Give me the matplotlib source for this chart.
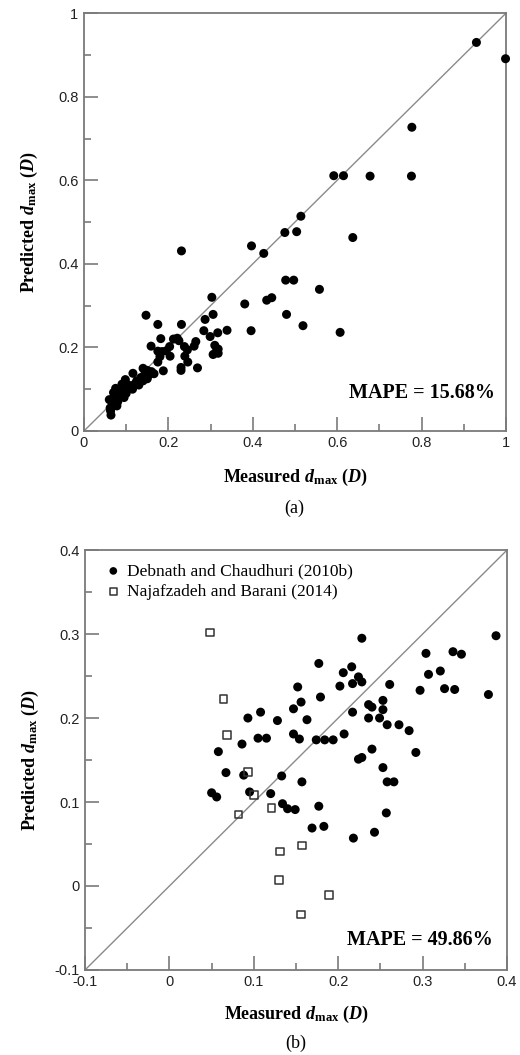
import numpy as np
import matplotlib
matplotlib.use('Agg')
from matplotlib import pyplot as plt
from matplotlib.ticker import MultipleLocator, FixedLocator

# ---- data ----
# (a) measured vs predicted d_max
meas_a = [0.930, 0.999, 0.777, 0.592, 0.615, 0.678, 0.776, 0.514, 0.476, 0.504,
          0.637, 0.397, 0.426, 0.231, 0.478, 0.497, 0.558, 0.303, 0.433, 0.445,
          0.381, 0.306, 0.480, 0.287, 0.147, 0.175, 0.231, 0.519, 0.396, 0.607,
          0.284, 0.339, 0.317, 0.299,
          0.182, 0.212, 0.221, 0.225, 0.265, 0.159, 0.238, 0.245, 0.261, 0.203,
          0.310, 0.318, 0.312, 0.306, 0.318, 0.175, 0.185, 0.195, 0.204, 0.239,
          0.180, 0.175, 0.246, 0.269, 0.230, 0.230, 0.188, 0.166,
          0.140, 0.150, 0.145, 0.155, 0.160, 0.135, 0.140, 0.150, 0.125, 0.116,
          0.130, 0.120,
          0.098, 0.105, 0.090, 0.085, 0.095, 0.100, 0.080, 0.075, 0.088, 0.070,
          0.080, 0.065, 0.072, 0.060, 0.068, 0.078, 0.062, 0.063, 0.064, 0.110,
          0.115, 0.095, 0.085, 0.075, 0.070]
pred_a = [0.930, 0.891, 0.727, 0.611, 0.611, 0.610, 0.610, 0.514, 0.475, 0.477,
          0.463, 0.443, 0.425, 0.431, 0.361, 0.361, 0.339, 0.320, 0.313, 0.319,
          0.304, 0.279, 0.279, 0.267, 0.277, 0.255, 0.255, 0.252, 0.240, 0.236,
          0.240, 0.241, 0.235, 0.226,
          0.221, 0.220, 0.222, 0.216, 0.214, 0.203, 0.202, 0.194, 0.203, 0.202,
          0.205, 0.196, 0.188, 0.183, 0.186, 0.191, 0.190, 0.192, 0.179, 0.179,
          0.178, 0.165, 0.165, 0.151, 0.152, 0.145, 0.144, 0.137,
          0.150, 0.145, 0.140, 0.135, 0.142, 0.128, 0.120, 0.125, 0.120, 0.138,
          0.110, 0.112,
          0.123, 0.110, 0.112, 0.100, 0.098, 0.090, 0.095, 0.085, 0.082, 0.078,
          0.070, 0.072, 0.065, 0.075, 0.060, 0.060, 0.055, 0.048, 0.038, 0.105,
          0.100, 0.080, 0.088, 0.102, 0.092]
mape_a = 'MAPE = 15.68%'

# (b) two earlier methods
meas_deb = [0.228, 0.387, 0.304, 0.336, 0.346, 0.177, 0.216, 0.206, 0.224, 0.217,
            0.228, 0.321, 0.307, 0.152, 0.202, 0.261, 0.326, 0.338, 0.297, 0.378,
            0.179, 0.156, 0.236, 0.240, 0.253, 0.147, 0.108, 0.217, 0.253, 0.093,
            0.128, 0.163, 0.236, 0.249, 0.258, 0.272, 0.284, 0.058, 0.086, 0.105,
            0.115, 0.147, 0.154, 0.174, 0.184, 0.194, 0.207, 0.292, 0.240, 0.224,
            0.228, 0.253, 0.258, 0.266, 0.157, 0.067, 0.088, 0.133, 0.050, 0.056,
            0.095, 0.120, 0.134, 0.140, 0.149, 0.177, 0.257, 0.169, 0.183, 0.218,
            0.243]
pred_deb = [0.295, 0.298, 0.277, 0.279, 0.276, 0.265, 0.261, 0.254, 0.249, 0.241,
            0.243, 0.256, 0.252, 0.237, 0.238, 0.240, 0.235, 0.234, 0.233, 0.228,
            0.225, 0.219, 0.216, 0.213, 0.221, 0.211, 0.207, 0.207, 0.210, 0.200,
            0.197, 0.198, 0.200, 0.200, 0.192, 0.192, 0.185, 0.160, 0.169, 0.176,
            0.176, 0.181, 0.175, 0.174, 0.174, 0.174, 0.181, 0.159, 0.163, 0.151,
            0.153, 0.141, 0.124, 0.124, 0.124, 0.135, 0.132, 0.131, 0.111, 0.106,
            0.112, 0.110, 0.098, 0.092, 0.091, 0.095, 0.087, 0.069, 0.071, 0.057,
            0.064]
meas_naj = [0.048, 0.064, 0.068, 0.093, 0.100, 0.082, 0.121, 0.157, 0.131, 0.130,
            0.189, 0.156]
pred_naj = [0.302, 0.223, 0.180, 0.136, 0.108, 0.085, 0.093, 0.048, 0.041, 0.007,
            -0.011, -0.034]
mape_b = 'MAPE = 49.86%'

lab_deb = 'Debnath and Chaudhuri (2010b)'
lab_naj = 'Najafzadeh and Barani (2014)'

# ---- style ----
plt.rcParams['mathtext.fontset'] = 'custom'
plt.rcParams['mathtext.rm'] = 'Liberation Serif'
plt.rcParams['mathtext.it'] = 'Liberation Serif:italic'
plt.rcParams['mathtext.bf'] = 'Liberation Serif:bold'
plt.rcParams['mathtext.bfit'] = 'Liberation Serif:bold:italic'

serif = 'Liberation Serif'
sans = 'Liberation Sans'
spine_col = '#7a7a7a'
xlab = r'Measured $\mathbfit{d}_{\mathbf{max}}$ ($\mathbfit{D}$)'
ylab = r'Predicted $\mathbfit{d}_{\mathbf{max}}$ ($\mathbfit{D}$)'


def fmt(v):
    s = ('%.1f' % v)
    if s.endswith('.0'):
        s = s[:-2]
    if s == '-0':
        s = '0'
    return s


def style_axes(ax, lo, hi, major, minor):
    ax.set_xlim(lo, hi)
    ax.set_ylim(lo, hi)
    ticks = np.round(np.arange(lo, hi + major / 2, major), 3)
    ax.xaxis.set_major_locator(FixedLocator(ticks))
    ax.yaxis.set_major_locator(FixedLocator(ticks))
    ax.set_xticklabels([fmt(t) for t in ticks])
    ax.set_yticklabels([fmt(t) for t in ticks])
    ax.xaxis.set_minor_locator(MultipleLocator(minor))
    ax.yaxis.set_minor_locator(MultipleLocator(minor))
    ax.tick_params(which='major', direction='in', length=10, width=1.2,
                   color=spine_col, labelsize=10.5, labelcolor='#222222')
    ax.tick_params(which='minor', direction='in', length=5, width=1.2,
                   color=spine_col)
    ax.tick_params(axis='x', which='major', pad=3.5)
    ax.tick_params(axis='y', which='major', pad=4)
    for lbl in ax.get_xticklabels() + ax.get_yticklabels():
        lbl.set_family(sans)
    for sp in ax.spines.values():
        sp.set_color(spine_col)
        sp.set_linewidth(1.3)
    ax.axline((lo, lo), slope=1, color='#8a8a8a', lw=1.0, zorder=1)


fig = plt.figure(figsize=(5.2, 10.55), dpi=100)
ax1 = fig.add_axes([0.1615, 0.5915, 0.8115, 0.396])
ax2 = fig.add_axes([0.1635, 0.0806, 0.8115, 0.398])

# (a)
style_axes(ax1, 0, 1, 0.2, 0.1)
ax1.scatter(meas_a, pred_a, s=42, color='black', edgecolors='none', zorder=3,
            clip_on=False)
ax1.text(0.974, 0.091, mape_a, transform=ax1.transAxes, ha='right', va='center',
         family=serif, fontweight='bold', fontsize=14.5)

# (b)
style_axes(ax2, -0.1, 0.4, 0.1, 0.05)
ax2.scatter(meas_deb, pred_deb, s=42, color='black', edgecolors='none', zorder=3,
            label=lab_deb)
ax2.scatter(meas_naj, pred_naj, s=30, facecolors='none', edgecolors='#333333',
            linewidths=1.1, marker='s', zorder=3, label=lab_naj)
ax2.text(0.967, 0.071, mape_b, transform=ax2.transAxes, ha='right', va='center',
         family=serif, fontweight='bold', fontsize=14.5)
leg = ax2.legend(loc='upper left', bbox_to_anchor=(0.03, 0.985), frameon=False,
                 prop={'family': serif, 'size': 12.5}, markerscale=0.85,
                 handletextpad=0.3, handlelength=1.0, labelspacing=0.25,
                 borderaxespad=0.0)

for ax, ly in ((ax1, -0.112), (ax2, -0.107)):
    ax.set_xlabel(xlab, family=serif, fontweight='bold', fontsize=13, va='center')
    ax.xaxis.set_label_coords(0.5, ly)
    ax.set_ylabel(ylab, family=serif, fontweight='bold', fontsize=13, va='center')
    ax.yaxis.set_label_coords(-0.13, 0.5)

fig.text(0.565, 0.518, '(a)', ha='center', va='center', family=serif, fontsize=13)
fig.text(0.569, 0.0114, '(b)', ha='center', va='center', family=serif, fontsize=13)

fig.savefig('out.png', dpi=100)
